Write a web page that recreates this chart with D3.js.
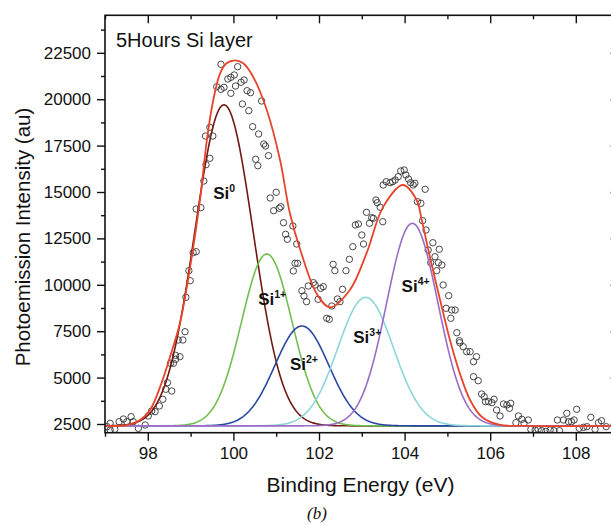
<!DOCTYPE html>
<html>
<head>
<meta charset="utf-8">
<script src="https://cdn.jsdelivr.net/npm/d3@7"></script>
<style>
  html, body { margin: 0; padding: 0; background: #fff; }
  svg { display: block; }
  text { font-family: "Liberation Sans", Arial, Helvetica, sans-serif; fill: #111; }
</style>
</head>
<body>
<svg id="chart" width="611" height="525"></svg>
<script>
// Si 2p photoemission scan (binding energy in eV, intensity in au)
const scanEnergy = [
  97.05, 97.12, 97.12, 97.23, 97.33, 97.43, 97.51, 97.61, 97.66, 97.78, 97.94, 98.01, 98.09, 98.17,
  98.27, 98.35, 98.42, 98.46, 98.53, 98.56, 98.60, 98.65, 98.65, 98.71, 98.75, 98.82, 98.87, 98.89,
  98.96, 98.99, 99.06, 99.13, 99.13, 99.24, 99.31, 99.35, 99.36, 99.45, 99.45, 99.52, 99.61, 99.71,
  99.71, 99.78, 99.87, 99.94, 99.94, 100.02, 100.05, 100.10, 100.18, 100.21, 100.25, 100.32, 100.36,
  100.40, 100.45, 100.52, 100.57, 100.59, 100.66, 100.71, 100.75, 100.82, 100.86, 100.94, 101.00,
  101.07, 101.11, 101.17, 101.22, 101.26, 101.39, 101.40, 101.44, 101.48, 101.50, 101.60, 101.65,
  101.71, 101.75, 101.87, 101.91, 101.98, 102.04, 102.10, 102.18, 102.24, 102.30, 102.33, 102.37,
  102.43, 102.49, 102.55, 102.63, 102.71, 102.79, 102.85, 102.92, 103.00, 103.04, 103.11, 103.18,
  103.23, 103.27, 103.33, 103.36, 103.43, 103.49, 103.50, 103.57, 103.66, 103.72, 103.78, 103.85,
  103.91, 103.99, 104.03, 104.09, 104.14, 104.20, 104.24, 104.30, 104.38, 104.42, 104.48, 104.50,
  104.55, 104.61, 104.66, 104.71, 104.75, 104.79, 104.81, 104.87, 104.90, 104.97, 105.03, 105.08,
  105.10, 105.18, 105.22, 105.28, 105.29, 105.37, 105.45, 105.53, 105.61, 105.61, 105.68, 105.72,
  105.80, 105.86, 105.89, 105.96, 106.04, 106.09, 106.15, 106.23, 106.31, 106.39, 106.45, 106.48,
  106.60, 106.66, 106.74, 106.79, 106.89, 106.95, 107.05, 107.12, 107.20, 107.30, 107.40, 107.49,
  107.57, 107.62, 107.71, 107.79, 107.83, 107.90, 107.96, 108.02, 108.08, 108.18, 108.26, 108.35,
  108.45, 108.53, 108.60, 108.71
];
const scanCounts = [
  2355, 2538, 2177, 2214, 2624, 2769, 2624, 2893, 2624, 2268, 2446, 2931, 3200, 3163,
  3470, 3831, 4370, 4725, 5771, 4278, 5771, 6202, 5986, 7026, 6126, 7026, 7473, 9326,
  10760, 10221, 11730, 11784, 14084, 14154, 15593, 18017, 16471, 18486, 16816, 18017, 20674, 21881,
  20534, 20642, 21089, 21180, 20318, 21304, 20712, 21752, 20911, 19742, 21035, 20459, 19381,
  20351, 18519, 16762, 16417, 18125, 19903, 17586, 17478, 16956, 14677, 13993, 14984,
  14122, 14208, 13346, 12721, 12452, 13168, 10744, 11159, 12198, 11159, 9682, 9397,
  9090, 9935, 10116, 9989, 9219, 9812, 9898, 8195, 8141, 8858, 11105, 10760,
  9235, 9090, 9758, 10760, 11374, 12053, 13222, 13276, 12683, 12198, 13906, 13314,
  13616, 13583, 14569, 14424, 14176, 13400, 15377, 15555, 15501, 15555, 15647, 15825,
  16132, 16186, 15916, 15701, 15501, 15377, 15469, 14478, 14391, 13454, 15146, 12953,
  11875, 11191, 12268, 11514, 10760, 11191, 11913, 11067, 9989, 8734, 9413, 8195,
  8642, 8642, 7419, 6988, 6880, 6665, 6396, 6396, 5857, 5049, 6126, 4833,
  4116, 3971, 3702, 3702, 3648, 3831, 3254, 2931, 3578, 3524, 3346, 3615,
  2570, 2931, 2753, 2538, 2716, 2214, 2177, 2214, 2139, 2106, 2177, 2139,
  2716, 2139, 2716, 3077, 2624, 2624, 2716, 3292, 2268, 2322, 2355, 2861,
  2214, 2570, 2678, 2355
];

// Overall fit envelope (binding energy eV, intensity au)
const fitEnergy = [
  97.0, 97.5, 97.82, 98.05, 98.29, 98.52, 98.75, 98.99, 99.22, 99.38, 99.53, 99.69, 99.84,
  100.04, 100.23, 100.46, 100.78, 101.09, 101.32, 101.56, 101.95, 102.26, 102.72, 103.11,
  103.50, 103.96, 104.28, 104.40, 104.59, 104.83, 105.06, 105.29, 105.53, 105.80, 106.23,
  106.80, 109.0
];
const fitCounts = [
  2400, 2440, 2715, 3250, 4510, 6126, 7926, 10975, 14569, 17802, 19957, 21396, 21935,
  22096, 21935, 21213, 19418, 16724, 13852, 11900, 9500, 8788, 9720, 11697,
  14200, 15377, 14569, 13491, 11514, 9181, 7026, 5232, 3793, 2893, 2446,
  2400, 2400
];

// Oxidation-state components (Gaussian: centre eV, height au, sigma eV)
const peakNames   = ["0", "1+", "2+", "3+", "4+"];
const peakCenters = [99.78, 100.78, 101.60, 103.09, 104.18];
const peakHeights = [17300, 9260, 5380, 6926, 10914];
const peakSigmas  = [0.68, 0.59, 0.63, 0.65, 0.60];
const background  = 2400;

// Axis ticks
const xMajorTicks = [98, 100, 102, 104, 106, 108];
const xMinorTicks = [97, 99, 101, 103, 105, 107, 109];
const yMajorTicks = [2500, 5000, 7500, 10000, 12500, 15000, 17500, 20000, 22500];
const yMinorTicks = [3750, 6250, 8750, 11250, 13750, 16250, 18750, 21250, 23750];

const componentColors = ["#6e1a12", "#72bf50", "#2b47a2", "#8fd5d7", "#9a6dc6"];
const envelopeColor = "#e8432b";

// Where each component name sits (energy, intensity at text baseline)
const labelEnergy = [99.53, 100.58, 101.32, 102.80, 103.93];
const labelCounts = [14620, 8910, 5410, 6850, 9630];

const svg = d3.select("#chart");
const plotLeft = 105, plotRight = 618.6, plotTop = 15.3, plotBottom = 432.7;

const x = d3.scaleLinear().domain([97, 109]).range([plotLeft, plotRight]);
const y = d3.scaleLinear().domain([2031, 24521]).range([plotBottom, plotTop]);

svg.append("defs").append("clipPath").attr("id", "plot")
  .append("rect").attr("x", plotLeft).attr("y", plotTop)
  .attr("width", plotRight - plotLeft).attr("height", plotBottom - plotTop);

const gauss = (e, i) => peakHeights[i] * Math.exp(-((e - peakCenters[i]) ** 2) / (2 * peakSigmas[i] ** 2));
const grid = d3.range(97, 109.0001, 0.02);

const line = d3.line().x(d => x(d[0])).y(d => y(d[1]));
const plot = svg.append("g").attr("clip-path", "url(#plot)");

// scan points
plot.append("g").selectAll("circle")
  .data(scanEnergy.map((e, i) => [e, scanCounts[i]]))
  .join("circle")
  .attr("cx", d => x(d[0])).attr("cy", d => y(d[1]))
  .attr("r", 3.2)
  .attr("fill", "none").attr("stroke", "#333").attr("stroke-width", 0.9);

// components
peakNames.forEach((name, i) => {
  plot.append("path")
    .datum(grid.map(e => [e, background + gauss(e, i)]))
    .attr("d", line).attr("fill", "none")
    .attr("stroke", componentColors[i]).attr("stroke-width", 1.6);
});

// envelope
plot.append("path")
  .datum(fitEnergy.map((e, i) => [e, fitCounts[i]]))
  .attr("d", line.curve(d3.curveCatmullRom.alpha(0.5)))
  .attr("fill", "none")
  .attr("stroke", envelopeColor).attr("stroke-width", 1.8);

// component labels
peakNames.forEach((name, i) => {
  const t = svg.append("text")
    .attr("x", x(labelEnergy[i])).attr("y", y(labelCounts[i]))
    .attr("font-size", 17).attr("font-weight", "bold");
  t.append("tspan").text("Si");
  t.append("tspan").attr("dy", -7).attr("font-size", 10.5).text(name);
});

// axes
const fmt = d3.format("d");
const gx = svg.append("g").attr("transform", `translate(0,${plotBottom})`)
  .call(d3.axisBottom(x).tickValues(xMajorTicks).tickSize(8).tickPadding(6).tickFormat(fmt));
svg.append("g").attr("transform", `translate(0,${plotBottom})`)
  .call(d3.axisBottom(x).tickValues(xMinorTicks).tickSize(4).tickFormat(""));
svg.append("g").attr("transform", `translate(0,${plotTop})`)
  .call(d3.axisBottom(x).tickValues(xMajorTicks).tickSize(8).tickFormat(""));
svg.append("g").attr("transform", `translate(0,${plotTop})`)
  .call(d3.axisBottom(x).tickValues(xMinorTicks).tickSize(4).tickFormat(""));

const gy = svg.append("g").attr("transform", `translate(${plotLeft},0)`)
  .call(d3.axisLeft(y).tickValues(yMajorTicks).tickSize(8).tickPadding(6).tickFormat(fmt));
svg.append("g").attr("transform", `translate(${plotLeft},0)`)
  .call(d3.axisLeft(y).tickValues(yMinorTicks).tickSize(4).tickFormat(""));
svg.append("g").attr("transform", `translate(${plotRight},0)`)
  .call(d3.axisLeft(y).tickValues(yMajorTicks).tickSize(8).tickFormat(""));

svg.selectAll(".domain").remove();
svg.selectAll(".tick line").attr("stroke", "#111").attr("stroke-width", 1.4);
gx.selectAll(".tick text").attr("font-size", 17).attr("fill", "#111");
gy.selectAll(".tick text").attr("font-size", 17).attr("fill", "#111");

// frame
svg.append("rect").attr("x", plotLeft).attr("y", plotTop)
  .attr("width", plotRight - plotLeft).attr("height", plotBottom - plotTop)
  .attr("fill", "none").attr("stroke", "#111").attr("stroke-width", 1.6);

// titles
svg.append("text").attr("x", 116).attr("y", 46.5)
  .attr("font-size", 20).text("5Hours Si layer");

svg.append("text")
  .attr("transform", "translate(30,237) rotate(-90)")
  .attr("text-anchor", "middle").attr("font-size", 20.5)
  .text("Photoemission Intensity (au)");

svg.append("text").attr("x", 360.5).attr("y", 491.5)
  .attr("text-anchor", "middle").attr("font-size", 21)
  .text("Binding Energy (eV)");

svg.append("text").attr("x", 317).attr("y", 519)
  .attr("text-anchor", "middle").attr("font-size", 17)
  .style("font-family", "'Liberation Serif', 'Times New Roman', serif")
  .style("font-style", "italic")
  .text("(b)");
</script>
</body>
</html>
